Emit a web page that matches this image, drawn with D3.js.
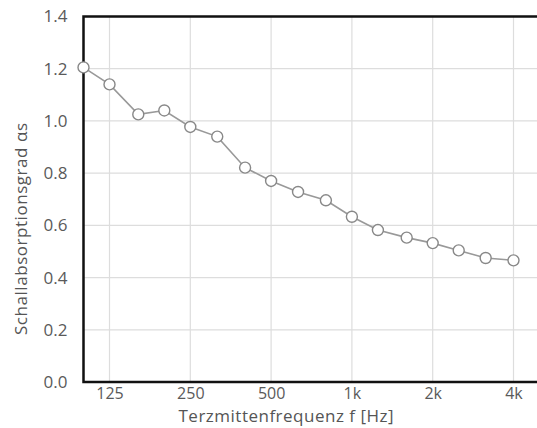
<!DOCTYPE html>
<html>
<head>
<meta charset="utf-8">
<script src="https://cdn.jsdelivr.net/npm/d3@7"></script>
<style>
  body { margin: 0; background: #fff; }
  text { font-family: "Open Sans", "Noto Sans", sans-serif; fill: #555; }
</style>
</head>
<body>
<svg id="chart" width="537" height="428"></svg>
<script>
// Terzmittenfrequenzen (Hz)
var freqs = [100, 125, 160, 200, 250, 315, 400, 500, 630, 800, 1000, 1250, 1600, 2000, 2500, 3150, 4000]
// Schallabsorptionsgrad
var alphaS = [1.205, 1.14, 1.025, 1.04, 0.977, 0.94, 0.821, 0.77, 0.728, 0.696, 0.633, 0.582, 0.553, 0.532, 0.504, 0.475, 0.466]
var xTicks = [125, 250, 500, 1000, 2000, 4000]
var xTickLabels = ["125", "250", "500", "1k", "2k", "4k"]
var yTicks = [0, 0.2, 0.4, 0.6, 0.8, 1.0, 1.2, 1.4]

var svg = d3.select("#chart")
var plotLeft = 83.5, plotTop = 16.5, plotBottom = 382

// Terzschritte: log2-Skala, 100 Hz am linken Rand
var x = d3.scaleLog().base(2)
          .domain([100, 4000])
          .range([plotLeft, 513.5])
var y = d3.scaleLinear()
          .domain([0, 1.4])
          .range([plotBottom, plotTop])

// Gitter
svg.append("g")
   .selectAll("line")
   .data(yTicks.slice(1, -1))
   .join("line")
   .attr("x1", plotLeft).attr("x2", 537)
   .attr("y1", d => y(d)).attr("y2", d => y(d))
   .attr("stroke", "#ddd").attr("stroke-width", 1.2)

svg.append("g")
   .selectAll("line")
   .data(xTicks)
   .join("line")
   .attr("x1", d => x(d)).attr("x2", d => x(d))
   .attr("y1", plotTop).attr("y2", plotBottom)
   .attr("stroke", "#ddd").attr("stroke-width", 1.2)

// Achsen
var yAxis = svg.append("g")
               .attr("transform", "translate(" + plotLeft + ",0)")
               .call(d3.axisLeft(y).tickValues(yTicks).tickFormat(d3.format(".1f")).tickSize(0).tickPadding(16))
yAxis.select(".domain").remove()
yAxis.selectAll("text").attr("font-size", 17).style("fill", "#5a5a5a")

var xAxis = svg.append("g")
               .attr("transform", "translate(0," + plotBottom + ")")
               .call(d3.axisBottom(x).tickValues(xTicks).tickFormat((d, i) => xTickLabels[i]).tickSize(0).tickPadding(6))
xAxis.select(".domain").remove()
xAxis.selectAll("text").attr("font-size", 16).style("fill", "#5a5a5a")

// Rahmen
svg.append("path")
   .attr("d", "M537," + plotTop + "H" + plotLeft + "V" + plotBottom + "H537")
   .attr("fill", "none")
   .attr("stroke", "#111")
   .attr("stroke-width", 2.5)

// Kurve
var line = d3.line()
             .x((d, i) => x(freqs[i]))
             .y(d => y(d))
svg.append("path")
   .datum(alphaS)
   .attr("d", line)
   .attr("fill", "none")
   .attr("stroke", "#999")
   .attr("stroke-width", 1.6)

svg.append("g")
   .selectAll("circle")
   .data(alphaS)
   .join("circle")
   .attr("cx", (d, i) => x(freqs[i]))
   .attr("cy", d => y(d))
   .attr("r", 5.5)
   .attr("fill", "#fff")
   .attr("stroke", "#888")
   .attr("stroke-width", 1.4)

// Beschriftung
svg.append("text")
   .attr("x", 286)
   .attr("y", 422)
   .attr("text-anchor", "middle")
   .attr("font-size", 17)
   .attr("textLength", 215)
   .attr("lengthAdjust", "spacing")
   .text("Terzmittenfrequenz f [Hz]")

svg.append("text")
   .attr("transform", "translate(27,229) rotate(-90)")
   .attr("text-anchor", "middle")
   .attr("font-size", 17)
   .attr("textLength", 212)
   .attr("lengthAdjust", "spacing")
   .text("Schallabsorptionsgrad αs")
</script>
</body>
</html>
